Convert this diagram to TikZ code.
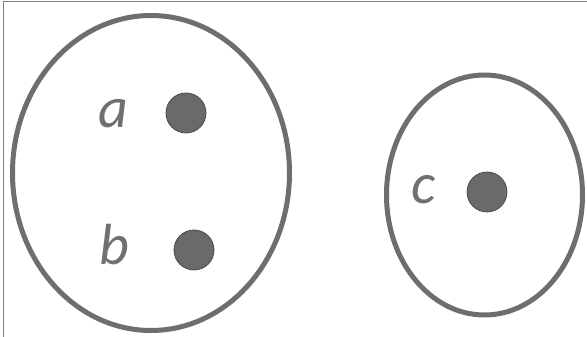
\documentclass[tikz,border=0pt]{standalone}
\usepackage{fontspec}
\usetikzlibrary{shapes.geometric}
\setmainfont{Carlito}
\begin{document}
\begin{tikzpicture}[x=1pt,y=1pt,
  setline/.style={draw=setgray,line width=5pt},
  dotnode/.style={circle,fill=dotgray,draw=dotgray!70!black,line width=0.8pt,minimum size=40pt,inner sep=0pt},
  lbl/.style={inner sep=0pt,text=lblgray,font=\fontsize{58}{60}\selectfont\itshape}]
\definecolor{setgray}{HTML}{6E6E6E}
\definecolor{dotgray}{HTML}{6A6A6A}
\definecolor{lblgray}{HTML}{707070}
\useasboundingbox (0,0) rectangle (587,337);
\fill[white] (0,0) rectangle (587,337);
\coordinate (fb) at (3,0);
\coordinate (ftl) at (3,335);
\coordinate (ftr) at (587,335);
\draw[gray,line width=1pt] (fb) -- (ftl) -- (ftr);
\node[setline,ellipse,minimum width=277pt,minimum height=315pt,inner sep=0pt] (L) at (151,164) {};
\node[setline,ellipse,minimum width=196pt,minimum height=240pt,inner sep=0pt] (R) at (484.5,142) {};
\node[dotnode] (da) at (186,224) {};
\node[dotnode] (db) at (194,87) {};
\node[dotnode] (dc) at (487,145) {};
\node[lbl] (a) at (113,223) {a};
\node[lbl] (b) at (114,92) {b};
\node[lbl] (c) at (424,147) {c};
\end{tikzpicture}
\end{document}
